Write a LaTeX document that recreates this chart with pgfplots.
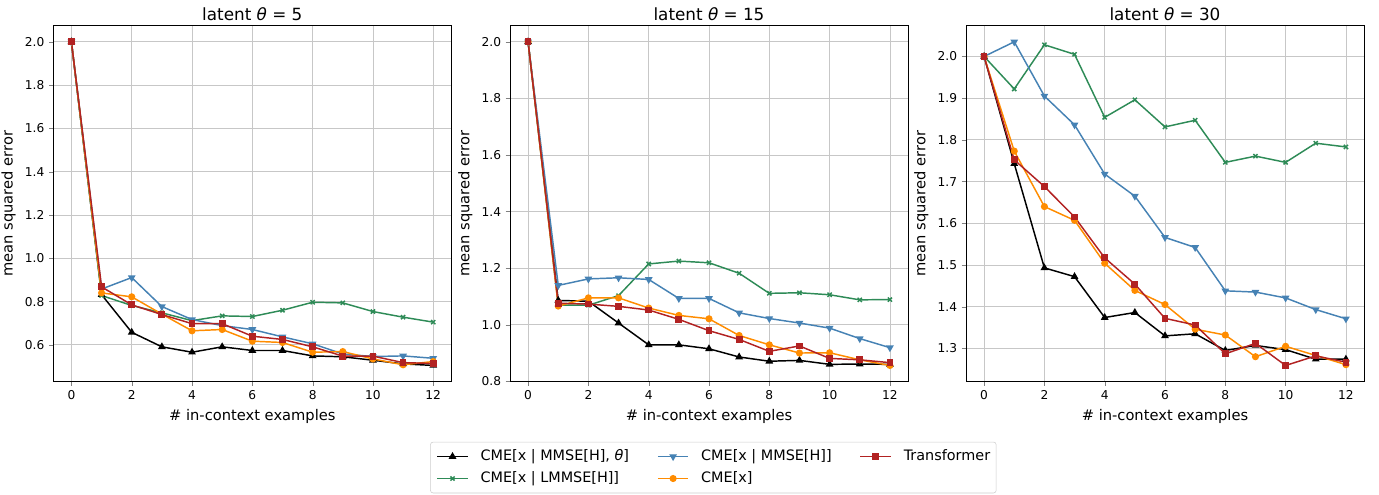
\documentclass[border=0pt]{standalone}
\usepackage{fontspec}
\setmainfont{DejaVu Sans}
\usepackage{pgfplots}
\usepackage{pgfplotstable}
\pgfplotsset{compat=1.18}

\definecolor{cblk}{RGB}{0,0,0}
\definecolor{cgrn}{RGB}{46,139,87}
\definecolor{cblu}{RGB}{70,130,180}
\definecolor{corg}{RGB}{255,140,0}
\definecolor{cred}{RGB}{178,34,34}

\pgfplotstableread{
n blk grn blu org red
0 2.000 2.000 2.000 2.000 2.000
1 0.832 0.828 0.858 0.840 0.868
2 0.658 0.782 0.911 0.822 0.785
3 0.591 0.748 0.777 0.742 0.740
4 0.566 0.712 0.717 0.665 0.698
5 0.591 0.734 0.689 0.671 0.698
6 0.574 0.731 0.671 0.617 0.640
7 0.574 0.760 0.637 0.611 0.625
8 0.549 0.797 0.605 0.566 0.591
9 0.545 0.794 0.558 0.569 0.548
10 0.529 0.754 0.546 0.535 0.548
11 0.512 0.728 0.549 0.508 0.518
12 0.505 0.705 0.538 0.523 0.514
}\tabA

\pgfplotstableread{
n blk grn blu org red
0 2.000 2.000 2.000 2.000 2.000
1 1.086 1.069 1.139 1.066 1.076
2 1.083 1.069 1.162 1.095 1.073
3 1.006 1.103 1.166 1.095 1.065
4 0.929 1.215 1.160 1.059 1.052
5 0.929 1.225 1.093 1.033 1.019
6 0.915 1.219 1.093 1.021 0.979
7 0.886 1.182 1.042 0.962 0.948
8 0.871 1.111 1.022 0.929 0.906
9 0.874 1.113 1.006 0.900 0.925
10 0.860 1.106 0.988 0.901 0.881
11 0.861 1.088 0.951 0.876 0.876
12 0.860 1.089 0.919 0.856 0.866
}\tabB

\pgfplotstableread{
n blk grn blu org red
0 2.000 2.000 2.000 2.000 2.000
1 1.743 1.922 2.035 1.773 1.752
2 1.493 2.028 1.905 1.640 1.688
3 1.472 2.005 1.836 1.607 1.615
4 1.374 1.854 1.718 1.504 1.517
5 1.386 1.896 1.665 1.439 1.454
6 1.330 1.831 1.566 1.405 1.372
7 1.335 1.847 1.542 1.346 1.356
8 1.295 1.746 1.438 1.332 1.287
9 1.307 1.761 1.435 1.280 1.312
10 1.297 1.746 1.421 1.305 1.259
11 1.274 1.792 1.393 1.283 1.282
12 1.274 1.783 1.371 1.261 1.267
}\tabC

\pgfplotsset{
  panel/.style={
    scale only axis, width=298.5pt, height=267pt, anchor=south west,
    xmin=-0.6, xmax=12.6, xtick={0,2,...,12},
    tick pos=left, tick align=outside, major tick length=3.2pt,
    grid=major, major grid style={black!22, line width=0.6pt},
    axis line style={line width=0.6pt},
    /pgf/number format/assume math mode=true,
    yticklabel style={/pgf/number format/fixed, /pgf/number format/fixed zerofill, /pgf/number format/precision=1},
    tick label style={font=\fontsize{9.15}{11}\selectfont},
    label style={font=\fontsize{11}{13}\selectfont},
    title style={font=\fontsize{12.6}{15}\selectfont, at={(0.5,1)}, anchor=base, yshift=-2pt},
    xlabel={\# in-context examples}, ylabel={mean squared error},
    every axis plot/.append style={line width=1.1pt},
  },
  sblk/.style={cblk, mark=triangle*, mark size=2.3pt},
  sgrn/.style={cgrn, mark=x, mark size=2.2pt},
  sblu/.style={cblu, mark=triangle*, mark size=2.3pt, mark options={rotate=180}},
  sorg/.style={corg, mark=*, mark size=2.1pt},
  sred/.style={cred, mark=square*, mark size=2pt},
}

\begin{document}
\begin{tikzpicture}
\useasboundingbox (0,0) rectangle (1034.25pt,371.25pt);

\begin{axis}[panel, at={(40pt,85pt)}, ymin=0.43, ymax=2.075, ytick={0.6,0.8,...,2.01},
  title={latent \textit{θ} = 5}]
\addplot[sblk] table[x=n, y=blk] {\tabA};
\addplot[sgrn] table[x=n, y=grn] {\tabA};
\addplot[sblu] table[x=n, y=blu] {\tabA};
\addplot[sorg] table[x=n, y=org] {\tabA};
\addplot[sred] table[x=n, y=red] {\tabA};
\end{axis}

\begin{axis}[panel, at={(382.5pt,85pt)}, ymin=0.7988, ymax=2.0572, ytick={0.8,1.0,...,2.01},
  title={latent \textit{θ} = 15}]
\addplot[sblk] table[x=n, y=blk] {\tabB};
\addplot[sgrn] table[x=n, y=grn] {\tabB};
\addplot[sblu] table[x=n, y=blu] {\tabB};
\addplot[sorg] table[x=n, y=org] {\tabB};
\addplot[sred] table[x=n, y=red] {\tabB};
\end{axis}

\begin{axis}[panel, at={(724.5pt,85pt)}, ymin=1.2202, ymax=2.0738, ytick={1.3,1.4,...,2.01},
  title={latent \textit{θ} = 30}]
\addplot[sblk] table[x=n, y=blk] {\tabC};
\addplot[sgrn] table[x=n, y=grn] {\tabC};
\addplot[sblu] table[x=n, y=blu] {\tabC};
\addplot[sorg] table[x=n, y=org] {\tabC};
\addplot[sred] table[x=n, y=red] {\tabC};
\end{axis}

% legend only
\begin{axis}[at={(535pt,20.6pt)}, anchor=center, hide axis, scale only axis,
  width=10pt, height=10pt, xmin=0, xmax=1, ymin=0, ymax=1,
  legend columns=3, legend cell align=left,
  legend image code/.code={\draw[mark repeat=2, mark phase=2, line width=1.1pt]
    plot coordinates {(0pt,0pt) (11.5pt,0pt) (23pt,0pt)};},
  legend style={at={(0.5,0.5)}, anchor=center, draw=black!20, rounded corners=2pt,
    font=\fontsize{10.8}{13}\selectfont, row sep=6pt, inner xsep=4.5pt, inner ysep=5.6pt,
    nodes={inner sep=0pt, text height=8pt, text depth=2.5pt},
    /tikz/every odd column/.append style={column sep=9pt},
    /tikz/every even column/.append style={column sep=21pt}}]
\addlegendimage{sblk}
\addlegendentry{CME[x | MMSE[H], \textit{θ}]}
\addlegendimage{sblu}
\addlegendentry{CME[x | MMSE[H]]}
\addlegendimage{sred}
\addlegendentry{Transformer}
\addlegendimage{sgrn}
\addlegendentry{CME[x | LMMSE[H]]}
\addlegendimage{sorg}
\addlegendentry{CME[x]}
\end{axis}
\end{tikzpicture}
\end{document}
